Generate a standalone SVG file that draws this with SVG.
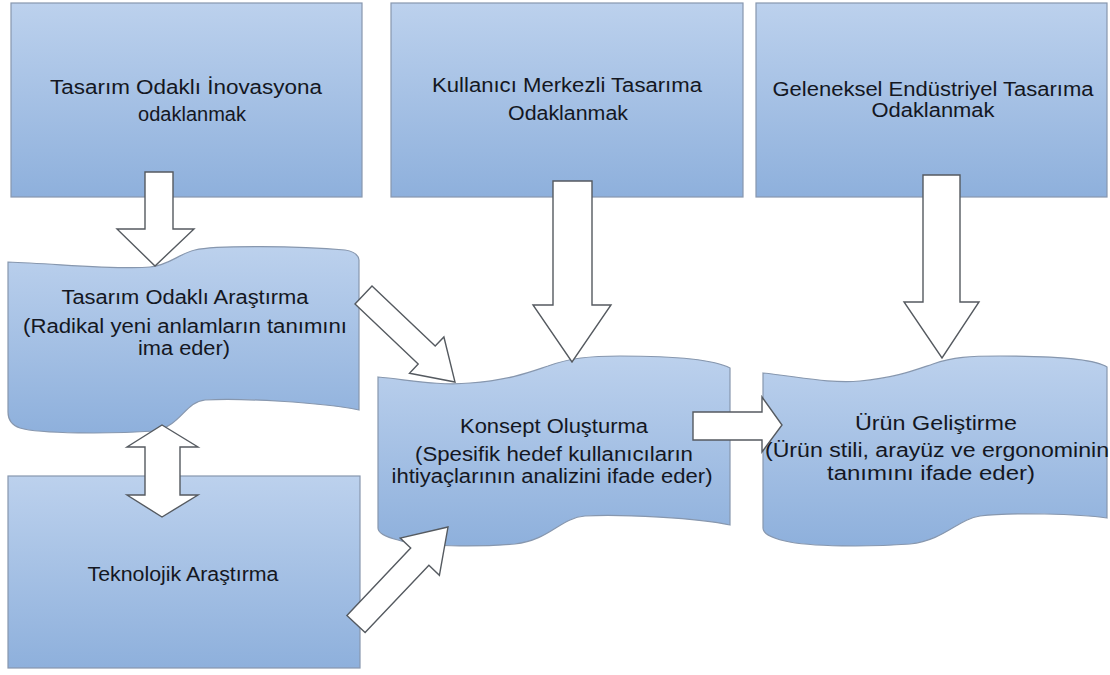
<svg xmlns="http://www.w3.org/2000/svg" width="1110" height="675" viewBox="0 0 1110 675">
  <defs>
    <linearGradient id="blueFill" x1="0" y1="0" x2="0" y2="1">
      <stop offset="0" stop-color="#bcd1ed"/>
      <stop offset="1" stop-color="#8eb0dc"/>
    </linearGradient>
    <style>
      .box { fill: url(#blueFill); stroke: #8797ae; stroke-width: 1.2; }
      .arrow { fill: #ffffff; stroke: #555a60; stroke-width: 1.4; stroke-linejoin: miter; }
      .lbl { font-family: "Liberation Sans", Arial, sans-serif; font-size: 20px; fill: #141722; text-anchor: middle; }
    </style>
  </defs>
  <rect width="1110" height="675" fill="#ffffff"/>

  <!-- top row: three approaches -->
  <g id="node-design-driven">
    <rect class="box" x="11" y="3" width="351" height="194"/>
    <text class="lbl" x="186" y="94" textLength="272" lengthAdjust="spacingAndGlyphs">Tasarım Odaklı İnovasyona</text>
    <text class="lbl" x="192" y="121">odaklanmak</text>
  </g>
  <g id="node-user-centered">
    <rect class="box" x="391" y="3" width="352" height="194"/>
    <text class="lbl" x="567" y="92" textLength="270" lengthAdjust="spacingAndGlyphs">Kullanıcı Merkezli Tasarıma</text>
    <text class="lbl" x="568" y="120" textLength="120" lengthAdjust="spacingAndGlyphs">Odaklanmak</text>
  </g>
  <g id="node-industrial">
    <rect class="box" x="756" y="3" width="351" height="194"/>
    <text class="lbl" x="933" y="96" textLength="321" lengthAdjust="spacingAndGlyphs">Geleneksel Endüstriyel Tasarıma</text>
    <text class="lbl" x="933" y="117" textLength="123" lengthAdjust="spacingAndGlyphs">Odaklanmak</text>
  </g>

  <!-- wave-shaped process steps -->
  <g id="node-design-research">
    <path class="box" d="M8,262 C60,264 120,270 150,267 C170,265 178,254 195,250 C215,245 300,246 345,250 Q358,252 359,260 L359,410 C320,402 240,398 205,400 C185,402 182,425 155,431 C110,434 40,434 20,428 Q8,424 8,412 Z"/>
    <text class="lbl" x="185" y="304" textLength="247" lengthAdjust="spacingAndGlyphs">Tasarım Odaklı Araştırma</text>
    <text class="lbl" x="185" y="333" textLength="324" lengthAdjust="spacingAndGlyphs">(Radikal yeni anlamların tanımını</text>
    <text class="lbl" x="184" y="355" textLength="92" lengthAdjust="spacingAndGlyphs">ima eder)</text>
  </g>
  <g id="node-technology">
    <rect class="box" x="8" y="476" width="352" height="192"/>
    <text class="lbl" x="183" y="581" textLength="191" lengthAdjust="spacingAndGlyphs">Teknolojik Araştırma</text>
  </g>
  <g id="node-concept">
    <path class="box" d="M378,377 C410,380 440,386 470,383 C510,380 530,372 548,366 C570,358 590,356 620,356 C680,356 715,360 730,368 L730,525 C700,518 620,514 585,516 C560,518 550,540 515,544 C480,547 420,547 398,540 Q378,535 378,528 Z"/>
    <text class="lbl" x="554" y="433" textLength="188" lengthAdjust="spacingAndGlyphs">Konsept Oluşturma</text>
    <text class="lbl" x="554" y="461" textLength="278" lengthAdjust="spacingAndGlyphs">(Spesifik hedef kullanıcıların</text>
    <text class="lbl" x="552" y="483" textLength="321" lengthAdjust="spacingAndGlyphs">ihtiyaçlarının  analizini  ifade eder)</text>
  </g>
  <g id="node-product">
    <path class="box" d="M763,373 C795,376 830,384 860,381 C895,378 915,370 933,364 C953,357 970,356 1000,356 C1060,356 1095,359 1107,367 L1107,518 C1080,514 1010,512 980,516 C958,519 945,540 910,544 C870,547 810,547 785,541 Q763,536 763,528 Z"/>
    <text class="lbl" x="936" y="430" textLength="162" lengthAdjust="spacingAndGlyphs">Ürün  Geliştirme</text>
    <text class="lbl" x="937" y="457" textLength="344" lengthAdjust="spacingAndGlyphs">(Ürün stili, arayüz ve ergonominin</text>
    <text class="lbl" x="931" y="480" textLength="208" lengthAdjust="spacingAndGlyphs">tanımını ifade eder)</text>
  </g>

  <!-- block arrows -->
  <g id="connectors">
    <polygon class="arrow" points="145,172 173,172 173,229 194,229 155,266 117,229 145,229"/>
    <polygon class="arrow" points="162,425 198,447 180,447 180,495 198,495 162,517 127,495 145,495 145,447 127,447"/>
    <polygon class="arrow" points="553,181 592,181 592,305 611,305 572,362 533,305 553,305"/>
    <polygon class="arrow" points="923,175 960,175 960,302 979,302 942,358 904,302 923,302"/>
    <polygon class="arrow" points="372,286 435.2,346.1 443.9,337 455,382 409.5,373.2 418.2,364.1 355,304"/>
    <polygon class="arrow" points="346.9,615.4 410.7,548.1 400.2,538.1 448,527 439.4,575.3 428.9,565.3 365.1,632.6"/>
    <polygon class="arrow" points="693,412 762,412 762,397 782,425 762,452 762,440 693,440"/>
  </g>
</svg>
